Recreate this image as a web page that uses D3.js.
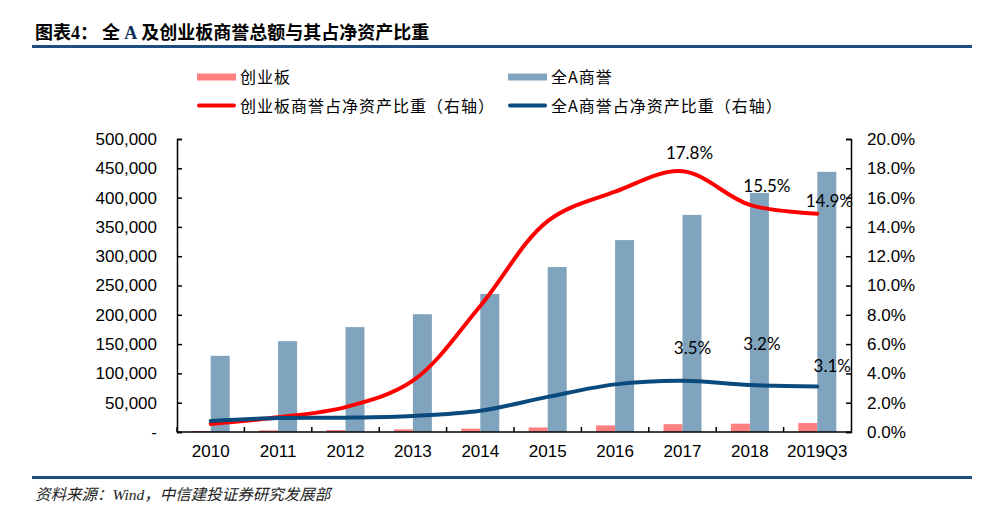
<!DOCTYPE html>
<html>
<head>
<meta charset="utf-8">
<script src="https://cdn.jsdelivr.net/npm/d3@7/dist/d3.min.js"></script>
<style>
  body { margin: 0; background: #fff; }
  svg { display: block; }
</style>
</head>
<body>
<script>
// categories + series
var years = ["2010", "2011", "2012", "2013", "2014", "2015", "2016", "2017", "2018", "2019Q3"];
var cybGoodwill = [1500, 2800, 3400, 4500, 5700, 7800, 11200, 13400, 14200, 15400];
var allAGoodwill = [130000, 155000, 179000, 201000, 235500, 281500, 327500, 370500, 408000, 444000];
var cybRatio = [0.55, 1.0, 1.7, 3.5, 8.6, 14.4, 16.4, 17.8, 15.5, 14.9];
var allARatio = [0.75, 0.95, 0.98, 1.1, 1.45, 2.4, 3.25, 3.5, 3.2, 3.1];
var leftTicks = [0, 50000, 100000, 150000, 200000, 250000, 300000, 350000, 400000, 450000, 500000];
var rightTicks = [0, 2, 4, 6, 8, 10, 12, 14, 16, 18, 20];
var cybLabelIdx = [7, 8, 9];
var allALabelIdx = [7, 8, 9];

var W = 981, H = 514;
var C = { pink: "#ff8080", bar: "#81a4be", red: "#ff0000", navy: "#0b4a7c", rule: "#1c4e80" };
var m = { left: 177, right: 851, top: 139, bottom: 432 };

var svg = d3.select("body").append("svg").attr("width", W).attr("height", H);

// title + rules
var title = svg.append("text").attr("x", 35).attr("y", 39)
  .attr("font-family", "'Noto Sans CJK SC', sans-serif").attr("font-weight", "bold")
  .attr("font-size", 18).attr("fill", "#000");
title.append("tspan").text("图表");
title.append("tspan").attr("font-family", "'Liberation Serif', serif").text("4");
title.append("tspan").text("：  全 ");
title.append("tspan").attr("font-family", "'Liberation Serif', serif").attr("fill", "#0f2f5a").text("A");
title.append("tspan").text(" 及创业板商誉总额与其占净资产比重");

svg.append("rect").attr("x", 32).attr("y", 45).attr("width", 940).attr("height", 3).attr("fill", C.rule);
svg.append("rect").attr("x", 32).attr("y", 476).attr("width", 940).attr("height", 3).attr("fill", C.rule);

svg.append("text").attr("x", 35).attr("y", 500)
  .attr("font-family", "'Liberation Serif', 'Noto Sans CJK SC', serif").attr("font-style", "italic")
  .attr("font-size", 15.5).attr("fill", "#222")
  .text("资料来源：Wind，中信建投证券研究发展部");

// scales
var x = d3.scaleBand().domain(years).range([m.left, m.right]).padding(0);
var yL = d3.scaleLinear().domain([0, 500000]).range([m.bottom, m.top]);
var yR = d3.scaleLinear().domain([0, 20]).range([m.bottom, m.top]);
var cx = function (d) { return x(d) + x.bandwidth() / 2; };
var barW = 19;

// bars
svg.append("g").selectAll("rect").data(years).join("rect")
  .attr("x", function (d) { return cx(d) - barW; })
  .attr("width", barW)
  .attr("y", function (d, i) { return yL(cybGoodwill[i]); })
  .attr("height", function (d, i) { return m.bottom - yL(cybGoodwill[i]); })
  .attr("fill", C.pink);

svg.append("g").selectAll("rect").data(years).join("rect")
  .attr("x", function (d) { return cx(d); })
  .attr("width", barW)
  .attr("y", function (d, i) { return yL(allAGoodwill[i]); })
  .attr("height", function (d, i) { return m.bottom - yL(allAGoodwill[i]); })
  .attr("fill", C.bar);

// axes
var axisFont = "'Liberation Sans', Arial, sans-serif";
var gL = svg.append("g").attr("transform", "translate(" + m.left + ",0)")
  .call(d3.axisLeft(yL).tickValues(leftTicks).tickSizeInner(-5).tickSizeOuter(-5).tickPadding(20)
    .tickFormat(function (d) { return d === 0 ? "-" : d3.format(",")(d); }));
var gR = svg.append("g").attr("transform", "translate(" + m.right + ",0)")
  .call(d3.axisRight(yR).tickValues(rightTicks).tickSizeInner(-5).tickSizeOuter(-5).tickPadding(16)
    .tickFormat(function (d) { return d.toFixed(1) + "%"; }));
var gB = svg.append("g").attr("transform", "translate(0," + m.bottom + ")")
  .call(d3.axisBottom(x).tickSize(0).tickPadding(13));
gB.selectAll(".tick").append("line")
  .attr("x1", -x.bandwidth() / 2).attr("x2", -x.bandwidth() / 2)
  .attr("y1", 0).attr("y2", -5).attr("stroke", "#000").attr("stroke-width", 1.5);
gB.append("line").attr("x1", m.left).attr("x2", m.right).attr("stroke", "#000").attr("stroke-width", 1.5);
gB.select(".domain").remove();

[gL, gR, gB].forEach(function (g) {
  g.selectAll("text").attr("font-family", axisFont).attr("font-size", 17).attr("fill", "#000");
  g.selectAll("line").attr("stroke", "#000").attr("stroke-width", 1.5);
  g.selectAll(".domain").attr("stroke", "#000").attr("stroke-width", 1.5);
});

// lines
var line = function (vals) {
  return d3.line()
    .x(function (d) { return cx(d); })
    .y(function (d, i) { return yR(vals[i]); })
    .curve(d3.curveCatmullRom.alpha(0.5))(years);
};
svg.append("path").attr("d", line(cybRatio)).attr("fill", "none")
  .attr("stroke", C.red).attr("stroke-width", 4).attr("stroke-linecap", "round");
svg.append("path").attr("d", line(allARatio)).attr("fill", "none")
  .attr("stroke", C.navy).attr("stroke-width", 4).attr("stroke-linecap", "round");

// data labels
var lblFont = "Lato, 'Open Sans', sans-serif";
var cybOff = [[7, -12], [17, -13], [12, -7]];
var allAOff = [[10, -27], [12, -35], [15, -15]];
cybLabelIdx.forEach(function (i, k) {
  svg.append("text").attr("x", cx(years[i]) + cybOff[k][0]).attr("y", yR(cybRatio[i]) + cybOff[k][1])
    .attr("text-anchor", "middle").attr("font-family", lblFont).attr("font-size", 17)
    .text(cybRatio[i].toFixed(1) + "%");
});
allALabelIdx.forEach(function (i, k) {
  svg.append("text").attr("x", cx(years[i]) + allAOff[k][0]).attr("y", yR(allARatio[i]) + allAOff[k][1])
    .attr("text-anchor", "middle").attr("font-family", lblFont).attr("font-size", 17)
    .text(allARatio[i].toFixed(1) + "%");
});

// legend
var legend = [
  { label: "创业板", color: C.pink, kind: "bar", x: 197, y: 77 },
  { label: "全A商誉", color: C.bar, kind: "bar", x: 508, y: 77 },
  { label: "创业板商誉占净资产比重（右轴）", color: C.red, kind: "line", x: 197, y: 105.5 },
  { label: "全A商誉占净资产比重（右轴）", color: C.navy, kind: "line", x: 508, y: 105.5 }
];
var lg = svg.append("g").selectAll("g").data(legend).join("g")
  .attr("transform", function (d) { return "translate(" + d.x + "," + d.y + ")"; });
lg.append("rect")
  .attr("x", 0).attr("width", 39)
  .attr("y", function (d) { return d.kind === "bar" ? -3.5 : -2; })
  .attr("height", function (d) { return d.kind === "bar" ? 7 : 4; })
  .attr("rx", function (d) { return d.kind === "bar" ? 0 : 2; })
  .attr("fill", function (d) { return d.color; });
lg.append("text").attr("x", 43).attr("y", 6)
  .attr("font-family", "'Noto Sans CJK SC', sans-serif").attr("font-size", 16)
  .attr("letter-spacing", 1).attr("fill", "#000")
  .text(function (d) { return d.label; });
</script>
</body>
</html>
